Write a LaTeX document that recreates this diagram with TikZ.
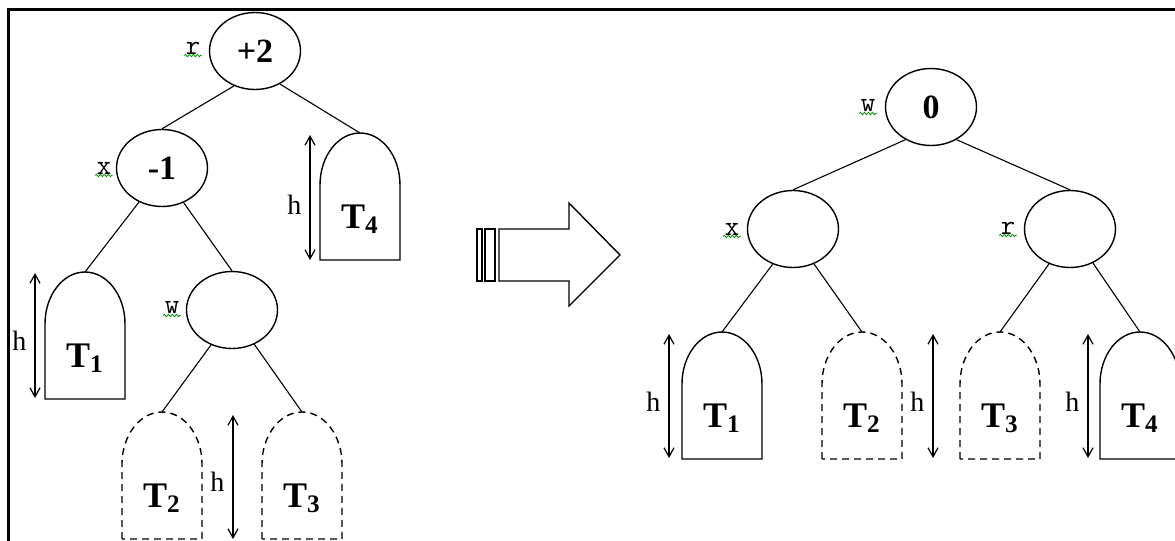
\documentclass[tikz,border=0pt]{standalone}
\usepackage{fontspec}
\setmainfont{Liberation Serif}
\usepackage{tikz}
\usetikzlibrary{shapes.geometric, arrows.meta, decorations.pathmorphing}

\tikzset{
  vertex/.style={ellipse, draw, line width=0.7pt, minimum width=45.5pt, minimum height=38.5pt,
    inner sep=0pt, font=\fontsize{17}{17}\selectfont\bfseries},
  tag/.style={font=\ttfamily\fontsize{14}{14}\selectfont, inner sep=0.5pt},
  squig/.style={draw=green!55!black, line width=0.4pt, decorate,
    decoration={zigzag, amplitude=0.6pt, segment length=2pt}},
  tree/.style={line width=0.7pt},
  dashtree/.style={tree, dash pattern=on 3.5pt off 2.5pt},
  tlabel/.style={font=\fontsize{18}{18}\selectfont\bfseries, inner sep=0pt},
  hlabel/.style={font=\fontsize{14}{14}\selectfont, inner sep=0pt},
  harrow/.style={line width=0.6pt, {Straight Barb[length=4.5pt, width=5pt]}-{Straight Barb[length=4.5pt, width=5pt]}},
  link/.style={line width=0.55pt},
  frame/.style={line width=1.5pt},
  hollow/.style={line width=0.7pt}
}

% subtree: name, x of centre, y of top, label, style
\newcommand{\subtree}[5]{%
  \draw[#5] (#2-40,#3+127) -- (#2-40,#3+52)
    arc[start angle=180, end angle=0, x radius=20pt, y radius=26pt] -- (#2+40,#3+127) -- cycle;
  \coordinate (#1) at (#2,#3);
  \node[tlabel] (#1-lbl) at (#2,#3+86) {#4};
}

\begin{document}
\begin{tikzpicture}[x=0.5pt, y=-0.5pt]
                \useasboundingbox (0,0) rectangle (1175,541);
                \draw[frame] (8,541) -- (8,9) -- (1175,9);

                % left tree
                \node[vertex] (r) at (255,51) {+2};
                \node[vertex] (x) at (162,168) {-1};
                \node[vertex] (w) at (232,310) {};
                \node[tag] (rtag) at (193,48) {r};
                \node[tag] (xtag) at (104,168) {x};
                \node[tag] (wtag) at (172,308) {w};
                \subtree{lT1}{85}{272}{T\textsubscript{1}}{tree}
                \subtree{lT2}{162}{412}{T\textsubscript{2}}{dashtree}
                \subtree{lT3}{302}{412}{T\textsubscript{3}}{dashtree}
                \subtree{lT4}{360}{133}{T\textsubscript{4}}{tree}

                \path[link]
                (r.239) edge (x.north)
                (r.307) edge (lT4)
                (x.236) edge (lT1)
                (x.302) edge (w.north)
                (w.239) edge (lT2)
                (w.303) edge (lT3);

                \coordinate (lh1a) at (35,273);  \coordinate (lh1b) at (35,398);
                \coordinate (lh2a) at (233,415); \coordinate (lh2b) at (233,539);
                \coordinate (lh4a) at (310,135); \coordinate (lh4b) at (310,260);
                \draw[harrow] (lh1a) -- (lh1b) node[hlabel, pos=0.54, left=4pt] (lh1) {h};
                \draw[harrow] (lh2a) -- (lh2b) node[hlabel, pos=0.54, left=4pt] (lh2) {h};
                \draw[harrow] (lh4a) -- (lh4b) node[hlabel, pos=0.56, left=4pt] (lh4) {h};

                % hollow arrow
                \draw[hollow] (477,229) rectangle (482,281);
                \draw[hollow] (485,229) rectangle (495,281);
                \draw[hollow] (499,229) -- (569,229) -- (569,203) -- (620,255)
                  -- (569,306) -- (569,281) -- (499,281) -- cycle;

                % right tree
                \node[vertex] (w2) at (931,107) {0};
                \node[vertex] (x2) at (793,229) {};
                \node[vertex] (r2) at (1070,229) {};
                \node[tag] (w2tag) at (868,106) {w};
                \node[tag] (x2tag) at (732,229) {x};
                \node[tag] (r2tag) at (1008,228) {r};
                \subtree{rT1}{722}{332}{T\textsubscript{1}}{tree}
                \subtree{rT2}{862}{332}{T\textsubscript{2}}{dashtree}
                \subtree{rT3}{1000}{332}{T\textsubscript{3}}{dashtree}
                \subtree{rT4}{1140}{332}{T\textsubscript{4}}{tree}

                \path[link]
                (w2.232) edge (x2.north)
                (w2.308) edge (r2.north)
                (x2.240) edge (rT1)
                (x2.301) edge (rT2)
                (r2.239) edge (rT3)
                (r2.304) edge (rT4);

                \coordinate (rh1a) at (669,334);  \coordinate (rh1b) at (669,458);
                \coordinate (rh2a) at (933,334);  \coordinate (rh2b) at (933,458);
                \coordinate (rh4a) at (1088,334); \coordinate (rh4b) at (1088,458);
                \draw[harrow] (rh1a) -- (rh1b) node[hlabel, pos=0.55, left=4pt] (rh1) {h};
                \draw[harrow] (rh2a) -- (rh2b) node[hlabel, pos=0.55, left=4pt] (rh2) {h};
                \draw[harrow] (rh4a) -- (rh4b) node[hlabel, pos=0.55, left=4pt] (rh4) {h};

                % spelling marks
                \foreach \t in {rtag, xtag, wtag, w2tag, x2tag, r2tag}
                  \draw[squig] (\t.south west) -- (\t.south east);
\end{tikzpicture}
\end{document}
